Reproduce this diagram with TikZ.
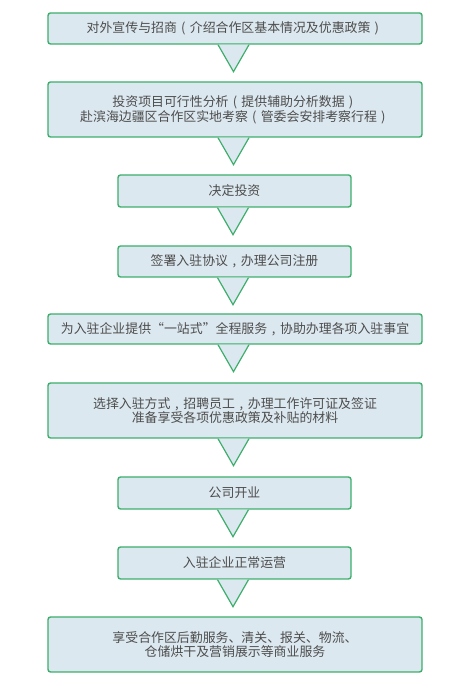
\documentclass[tikz,border=0pt]{standalone}
\usepackage{fontspec}
\setmainfont{Noto Sans CJK SC}
\definecolor{boxfill}{HTML}{DCE8EF}
\definecolor{boxline}{HTML}{3DAE6C}
\definecolor{txt}{HTML}{4D4D4D}
\newcommand{\lpar}{\makebox[1em]{(}}
\newcommand{\rpar}{\makebox[1em]{)}}
\newcommand{\cm}{\makebox[1em]{,}}
\tikzset{
  stepbox/.style={draw=boxline, fill=boxfill, line width=1.4pt, rounded corners=2.5pt,
    text=txt, align=center, inner sep=0pt, font=\fontsize{12.9}{14.8}\selectfont},
  wide/.style={stepbox, minimum width=374pt},
  narrow/.style={stepbox, minimum width=233pt},
  tri/.style={draw=boxline, fill=boxfill, line width=1.2pt, line join=miter}
}
\begin{document}
\begin{tikzpicture}[x=1pt,y=1pt]
\useasboundingbox (0,0) rectangle (470,692);
\node[wide, minimum height=31pt] (b1) at (235,663.5) {对外宣传与招商\lpar 介绍合作区基本情况及优惠政策\rpar};
\node[wide, minimum height=55pt] (b2) at (235,582.5) {投资项目可行性分析\lpar 提供辅助分析数据\rpar\\赴滨海边疆区合作区实地考察\lpar 管委会安排考察行程\rpar};
\node[narrow, minimum height=32pt] (b3) at (234.5,501) {决定投资};
\node[narrow, minimum height=31pt] (b4) at (234.5,430.5) {签署入驻协议\cm 办理公司注册};
\node[wide, minimum height=30pt] (b5) at (235,363) {为入驻企业提供“一站式”全程服务\cm 协助办理各项入驻事宜};
\node[wide, minimum height=55pt] (b6) at (235,281.5) {选择入驻方式\cm 招聘员工\cm 办理工作许可证及签证\\准备享受各项优惠政策及补贴的材料};
\node[narrow, minimum height=32pt] (b7) at (234.5,199) {公司开业};
\node[narrow, minimum height=32pt] (b8) at (234.5,129) {入驻企业正常运营};
\node[wide, minimum height=55pt] (b9) at (235,47.5) {享受合作区后勤服务、清关、报关、物流、\\仓储烘干及营销展示等商业服务};
\foreach \n in {b1,b2,b3,b4,b5,b6,b7,b8}{
  \filldraw[tri] ([xshift=-17pt]\n.south) -- ([xshift=-1.5pt,yshift=-27pt]\n.south) -- ([xshift=14pt]\n.south);
}
\end{tikzpicture}
\end{document}
